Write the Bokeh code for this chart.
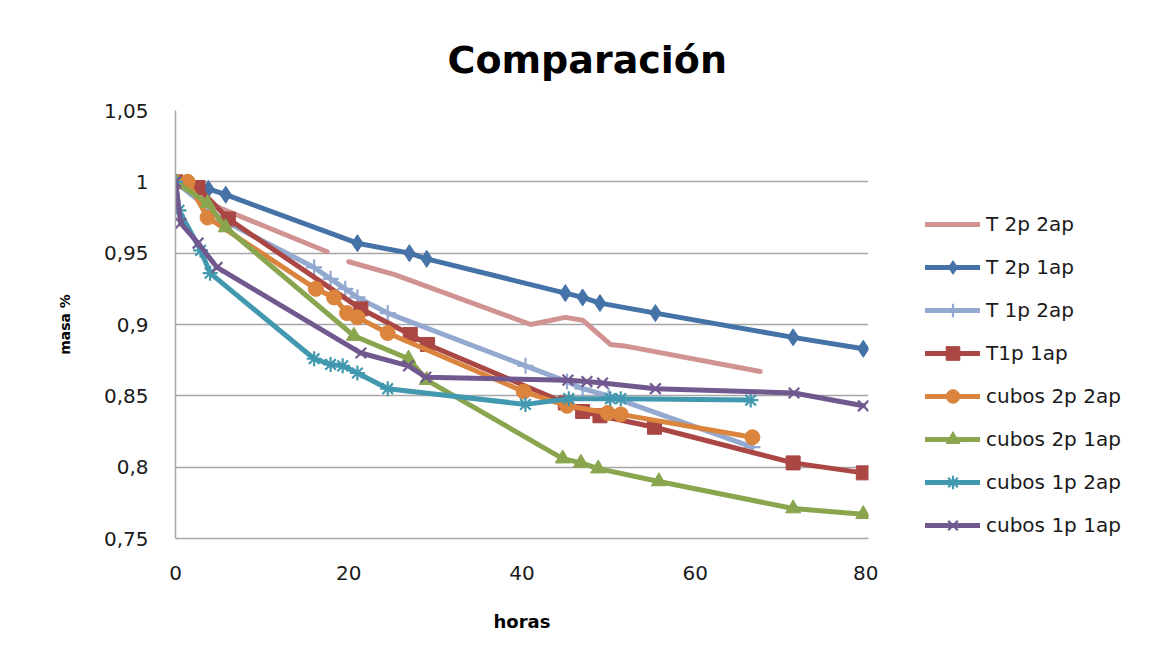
import numpy as np
from bokeh.plotting import figure
from bokeh.models import Legend, LegendItem, FixedTicker, Range1d
from bokeh.layouts import row
from bokeh.embed import file_html
from bokeh.resources import INLINE

# ---------------- data ----------------
series_names = ["T 2p 2ap", "T 2p 1ap", "T 1p 2ap", "T1p 1ap",
                "cubos 2p 2ap", "cubos 2p 1ap", "cubos 1p 2ap", "cubos 1p 1ap"]

t2p2ap_x = [0, 5, 17.5, 18.5, 20, 25.3, 41, 45, 47, 50.2, 51.8, 67.5]
t2p2ap_y = [1.0, 0.982, 0.951, np.nan, 0.944, 0.935, 0.900, 0.905, 0.903, 0.886, 0.885, 0.867]

t2p1ap_x = [0, 3.8, 5.8, 21, 27, 29, 45, 47, 49, 55.4, 71.3, 79.4]
t2p1ap_y = [1.0, 0.995, 0.991, 0.957, 0.950, 0.946, 0.922, 0.919, 0.915, 0.908, 0.891, 0.883]

t1p2ap_x = [0, 5.5, 16, 17.9, 19.6, 21, 24.5, 40.4, 45.2, 47, 50, 66.6]
t1p2ap_y = [1.0, 0.973, 0.940, 0.932, 0.925, 0.919, 0.908, 0.871, 0.860, 0.855, 0.850, 0.814]

t1p1ap_x = [0, 2.6, 6.1, 21.4, 27.1, 29.1, 45, 47, 49, 55.3, 71.3, 79.4]
t1p1ap_y = [1.0, 0.996, 0.974, 0.911, 0.893, 0.886, 0.845, 0.839, 0.836, 0.828, 0.803, 0.796]

c2p2ap_x = [0, 1.4, 3.7, 16.2, 18.3, 19.8, 21, 24.5, 40.2, 45.2, 49.9, 51.4, 66.6]
c2p2ap_y = [1.0, 1.0, 0.975, 0.925, 0.919, 0.908, 0.905, 0.894, 0.853, 0.843, 0.838, 0.837, 0.821]

c2p1ap_x = [0, 3.7, 5.8, 20.6, 26.9, 29, 44.7, 46.8, 48.8, 55.8, 71.3, 79.4]
c2p1ap_y = [1.0, 0.985, 0.968, 0.892, 0.876, 0.861, 0.806, 0.803, 0.799, 0.790, 0.771, 0.767]

c1p2ap_x = [0, 0.4, 2.9, 4.0, 16, 17.9, 19.3, 21, 24.5, 40.4, 45.4, 50.2, 51.4, 66.4]
c1p2ap_y = [1.0, 0.980, 0.952, 0.936, 0.876, 0.872, 0.871, 0.866, 0.855, 0.844, 0.848, 0.848, 0.848, 0.847]

c1p1ap_x = [0, 0.6, 2.6, 4.8, 21.4, 26.9, 28.9, 45.3, 47.5, 49.3, 55.4, 71.4, 79.4]
c1p1ap_y = [1.0, 0.971, 0.957, 0.940, 0.880, 0.871, 0.863, 0.861, 0.860, 0.859, 0.855, 0.852, 0.843]

x_ticks = [0, 20, 40, 60, 80]
y_ticks = [0.75, 0.8, 0.85, 0.9, 0.95, 1.0, 1.05]
y_tick_labels = ["0,75", "0,8", "0,85", "0,9", "0,95", "1", "1,05"]

# ---------------- styles ----------------
colors = ["#D19392", "#4572A7", "#93A9CF", "#AA4643",
          "#DB843D", "#89A54E", "#4198AF", "#71588F"]
markers = [None, "diamond", "cross", "square", "circle", "triangle", "asterisk", "x"]
msizes = [0, 17, 16, 14, 15, 15, 15, 15]
FONT = "DejaVu Sans"
TXT = "#1a1a1a"

p = figure(width=878, height=651, output_backend="svg", toolbar_location=None,
           x_range=Range1d(0, 80), y_range=Range1d(0.75, 1.05),
           min_border_left=175, min_border_right=10,
           min_border_top=110, min_border_bottom=113)

p.title.text = "Comparación"
p.title.text_font = FONT
p.title.text_font_size = "38px"
p.title.text_font_style = "bold"
p.title.text_color = "#000000"
p.title.align = "left"
p.title.offset = 272
p.title.standoff = 57

p.outline_line_color = None
p.background_fill_color = "white"
p.border_fill_color = "white"

p.xgrid.grid_line_color = None
p.ygrid.grid_line_color = "#A6A6A6"
p.ygrid.grid_line_width = 1.5
p.ygrid.ticker = FixedTicker(ticks=y_ticks)

p.xaxis.ticker = FixedTicker(ticks=x_ticks)
p.yaxis.ticker = FixedTicker(ticks=y_ticks)
p.yaxis.major_label_overrides = {t: l for t, l in zip(y_ticks, y_tick_labels)}

for ax in (p.xaxis[0], p.yaxis[0]):
    ax.axis_line_color = "#A6A6A6"
    ax.axis_line_width = 1.5
    ax.major_tick_line_color = None
    ax.minor_tick_line_color = None
    ax.major_tick_out = 0
    ax.major_tick_in = 0
    ax.major_label_text_font = FONT
    ax.major_label_text_font_size = "20px"
    ax.major_label_text_color = TXT
    ax.major_label_standoff = 27
    ax.axis_label_text_font = FONT
    ax.axis_label_text_font_style = "bold"
    ax.axis_label_text_color = "#000000"

p.xaxis.axis_label = "horas"
p.xaxis.axis_label_text_font_size = "18px"
p.xaxis.axis_label_standoff = 28
p.yaxis.axis_label = "masa %"
p.yaxis.axis_label_text_font_size = "14px"
p.yaxis.axis_label_standoff = 28

xs = [t2p2ap_x, t2p1ap_x, t1p2ap_x, t1p1ap_x, c2p2ap_x, c2p1ap_x, c1p2ap_x, c1p1ap_x]
ys = [t2p2ap_y, t2p1ap_y, t1p2ap_y, t1p1ap_y, c2p2ap_y, c2p1ap_y, c1p2ap_y, c1p1ap_y]


def draw_series(fig, x, y, c, m, s):
    rs = [fig.line(x, y, line_color=c, line_width=5, line_join="round", line_cap="round")]
    if m is not None:
        if m in ("cross", "asterisk", "x"):
            rs.append(fig.scatter(x, y, marker=m, size=s, line_color=c, line_width=2.2,
                                  fill_color=c))
        else:
            rs.append(fig.scatter(x, y, marker=m, size=s, line_color=c, fill_color=c))
    return rs


for name, x, y, c, m, s in zip(series_names, xs, ys, colors, markers, msizes):
    draw_series(p, x, y, c, m, s)

# ---- legend panel: a second figure whose view is away from the data ----
lf = figure(width=1155 - 878, height=651, output_backend="svg", toolbar_location=None,
            x_range=Range1d(1000, 1001), y_range=Range1d(1000, 1001),
            min_border_left=0, min_border_right=0, min_border_top=0, min_border_bottom=0)
lf.axis.visible = False
lf.grid.grid_line_color = None
lf.outline_line_color = None
lf.border_fill_color = "white"

items = []
for name, x, y, c, m, s in zip(series_names, xs, ys, colors, markers, msizes):
    rs = draw_series(lf, x, y, c, m, s)
    items.append(LegendItem(label=name, renderers=rs))

legend = Legend(items=items, location=(47, -4), orientation="vertical",
                glyph_width=55, glyph_height=34, label_height=20,
                spacing=9, padding=0, margin=0, label_standoff=6,
                label_text_font=FONT, label_text_font_size="20px",
                label_text_color=TXT, border_line_color=None,
                background_fill_alpha=0)
lf.add_layout(legend, "center")

layout = row(p, lf)
open("out.html", "w").write(file_html(layout, INLINE))
